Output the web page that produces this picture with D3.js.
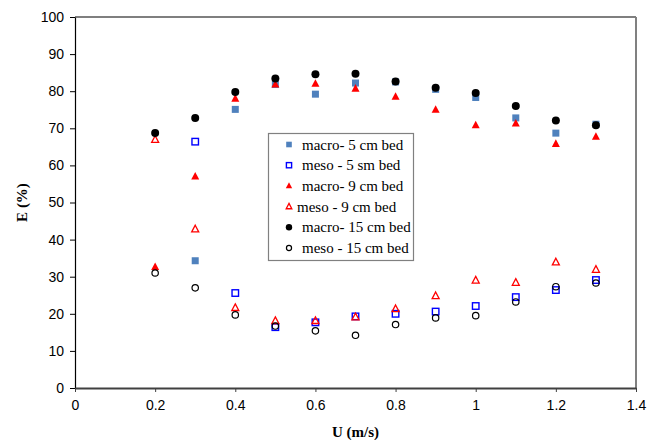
<!DOCTYPE html>
<html>
<head>
<meta charset="utf-8">
<script src="https://cdn.jsdelivr.net/npm/d3@7"></script>
<style>
  html, body { margin: 0; padding: 0; background: #fff; }
  svg { display: block; }
</style>
</head>
<body>
<svg id="chart" width="660" height="440"></svg>
<script>
// Superficial gas velocity U (m/s)
const velocity = [0.2, 0.3, 0.4, 0.5, 0.6, 0.7, 0.8, 0.9, 1.0, 1.1, 1.2, 1.3];

// Fraction E (%) for each bed height
const macro5  = [null, 34.3, 75.1, 81.8, 79.2, 82.2, 82.5, 80.5, 78.3, 72.8, 68.7, 71.1];
const meso5   = [null, 66.4, 25.6, 16.4, 17.7, 19.3, 20.0, 20.6, 22.1, 24.5, 26.4, 29.1];
const macro9  = [32.6, 57.0, 78.0, 81.8, 82.0, 80.7, 78.5, 75.0, 70.8, 71.3, 65.8, 67.7];
const meso9   = [66.9, 42.8, 21.6, 18.1, 18.1, 19.1, 21.3, 24.8, 29.0, 28.4, 33.9, 31.9];
const macro15 = [68.7, 72.8, 79.8, 83.4, 84.6, 84.7, 82.6, 80.9, 79.5, 76.0, 72.1, 70.8];
const meso15  = [31.0, 27.0, 19.7, 16.7, 15.4, 14.2, 17.1, 18.9, 19.5, 23.2, 27.3, 28.3];

const seriesNames = [
  "macro- 5 cm bed", "meso - 5 sm bed", "macro- 9 cm bed",
  "meso - 9 cm bed", "macro- 15 cm bed", "meso - 15 cm bed"
];

const xTicks = [0, 0.2, 0.4, 0.6, 0.8, 1, 1.2, 1.4];
const yTicks = [0, 10, 20, 30, 40, 50, 60, 70, 80, 90, 100];

const series = [
  { name: seriesNames[0], values: macro5,  shape: "square",   fill: "#4f81bd", stroke: "none" },
  { name: seriesNames[1], values: meso5,   shape: "square",   fill: "none",    stroke: "#0000ff" },
  { name: seriesNames[2], values: macro9,  shape: "triangle", fill: "#ff0000", stroke: "none" },
  { name: seriesNames[3], values: meso9,   shape: "triangle", fill: "none",    stroke: "#ff0000" },
  { name: seriesNames[4], values: macro15, shape: "circle",   fill: "#000000", stroke: "none" },
  { name: seriesNames[5], values: meso15,  shape: "circle",   fill: "none",    stroke: "#000000" }
];

const svg = d3.select("#chart");
const W = 660, H = 440;
const m = { top: 17, right: 24, bottom: 52, left: 75 };

const x = d3.scaleLinear().domain([0, 1.4]).range([m.left, W - m.right]);
const y = d3.scaleLinear().domain([0, 100]).range([H - m.bottom, m.top]);

// Frame: top black, right grey
svg.append("line")
  .attr("x1", x(0)).attr("x2", x(1.4)).attr("y1", y(100)).attr("y2", y(100))
  .attr("stroke", "#000").attr("stroke-width", 1.2);
svg.append("line")
  .attr("x1", x(1.4)).attr("x2", x(1.4)).attr("y1", y(100)).attr("y2", y(0))
  .attr("stroke", "#808080").attr("stroke-width", 2);

// Y axis
const yAxis = svg.append("g")
  .attr("transform", `translate(${x(0)},0)`)
  .call(d3.axisLeft(y).tickValues(yTicks).tickSize(5).tickSizeOuter(0).tickPadding(6));
yAxis.select(".domain").attr("stroke", "#000").attr("stroke-width", 1.2);
yAxis.selectAll(".tick line").attr("stroke", "#000");
yAxis.selectAll(".tick text")
  .attr("font-family", "'Liberation Sans', Arial, sans-serif")
  .attr("font-size", 14).attr("fill", "#000");

// X axis
const xAxis = svg.append("g")
  .attr("transform", `translate(0,${y(0)})`)
  .call(d3.axisBottom(x).tickValues(xTicks).tickFormat(d3.format("~g")).tickSize(4).tickSizeOuter(0).tickPadding(8));
xAxis.select(".domain").attr("stroke", "#404040").attr("stroke-width", 2);
xAxis.selectAll(".tick line").attr("stroke", "#404040");
xAxis.selectAll(".tick text")
  .attr("font-family", "'Liberation Sans', Arial, sans-serif")
  .attr("font-size", 14).attr("fill", "#000");

// Axis titles
svg.append("text")
  .attr("x", (x(0) + x(1.4)) / 2).attr("y", 437)
  .attr("text-anchor", "middle")
  .attr("font-family", "'Liberation Serif', 'Times New Roman', serif")
  .attr("font-weight", "bold").attr("font-size", 15)
  .text("U (m/s)");
svg.append("text")
  .attr("transform", `translate(27,${(y(0) + y(100)) / 2}) rotate(-90)`)
  .attr("text-anchor", "middle")
  .attr("font-family", "'Liberation Serif', 'Times New Roman', serif")
  .attr("font-weight", "bold").attr("font-size", 15)
  .text("E (%)");

// Marker drawing
function drawMarker(g, s, cx, cy, scale) {
  const k = scale || 1;
  if (s.shape === "square") {
    const a = (s.fill === "none" ? 6.5 : 7) * k;
    g.append("rect")
      .attr("x", cx - a / 2).attr("y", cy - a / 2).attr("width", a).attr("height", a)
      .attr("fill", s.fill).attr("stroke", s.stroke).attr("stroke-width", 1.4);
  } else if (s.shape === "triangle") {
    const a = (s.fill === "none" ? 7 : 8) * k;
    const h = a * 0.95;
    g.append("path")
      .attr("d", `M${cx},${cy - h * 0.6} L${cx + a / 2},${cy + h * 0.4} L${cx - a / 2},${cy + h * 0.4} Z`)
      .attr("fill", s.fill).attr("stroke", s.stroke).attr("stroke-width", 1.3);
  } else {
    const r = (s.fill === "none" ? 3.2 : 4) * k;
    g.append("circle")
      .attr("cx", cx).attr("cy", cy).attr("r", r)
      .attr("fill", s.fill).attr("stroke", s.stroke).attr("stroke-width", 1.2);
  }
}

const marks = svg.append("g");
series.forEach(s => {
  velocity.forEach((u, i) => {
    const v = s.values[i];
    if (v == null) return;
    drawMarker(marks, s, x(u), y(v));
  });
});

// Legend
const lg = svg.append("g");
lg.append("rect")
  .attr("x", 268.5).attr("y", 133.5).attr("width", 145).attr("height", 127)
  .attr("fill", "#fff").attr("stroke", "#808080").attr("stroke-width", 1.2);
series.forEach((s, i) => {
  const cy = 144.5 + i * 20.7;
  drawMarker(lg, s, 289, cy, 0.8);
  lg.append("text")
    .attr("x", i === 3 ? 297 : 302).attr("y", cy + 5)
    .attr("font-family", "'Liberation Serif', 'Times New Roman', serif")
    .attr("font-size", 15).attr("fill", "#000")
    .text(s.name);
});
</script>
</body>
</html>
